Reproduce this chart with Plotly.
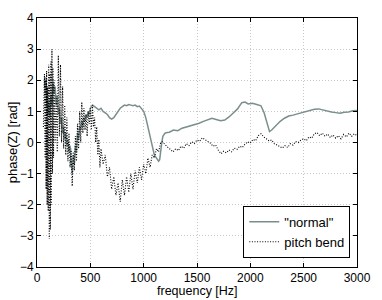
import plotly.graph_objects as go

# "normal" playing: frequency [Hz] and phase [rad]
normal_freq = [70, 75, 80, 85, 90, 95, 100, 110, 120, 130, 140, 150, 160, 170, 180, 190, 200, 210, 220, 230,
               240, 250, 260, 270, 280, 290, 300, 310, 320, 330, 340, 350, 360, 370, 380, 390, 400, 410, 420, 430,
               440, 450, 460, 470, 480, 490, 500, 520, 540, 560, 580, 600, 620, 640, 660, 680, 700, 720, 740, 760,
               780, 800, 820, 840, 860, 880, 900, 920, 940, 960, 980, 1000, 1020, 1040, 1060, 1080, 1100, 1120,
               1140, 1150, 1160, 1170, 1180, 1200, 1220,
               1240, 1280, 1320, 1360, 1400, 1440, 1480, 1520, 1560, 1600, 1640, 1680, 1720, 1760, 1800, 1840,
               1880, 1920, 1950, 1980, 2020, 2060, 2100, 2130, 2160, 2180, 2200, 2240, 2280, 2320, 2360, 2400,
               2440, 2480, 2520, 2560, 2600, 2640, 2680, 2720, 2760, 2800, 2840, 2880, 2920, 2960, 3000]
normal_phase = [1.8, 2.1, 1.6, 2.0, 1.2, 1.7, 0.9, 1.3, 0.8, 1.5, 1.2, 1.9, 1.6, 1.8, 1.2, 1.5, 0.9, 1.1, 0.6, 0.8,
                0.3, 0.5, 0.1, 0.3, -0.1, 0.1, -0.3, -0.1, -0.6, -1.0, -0.4, -0.7, -0.1, -0.3, 0.3, 0.1, 0.5, 0.4, 0.7, 0.5,
                0.8, 0.7, 0.9, 0.8, 1.0, 0.9, 1.1, 1.2, 1.15, 1.1, 1.05, 1.1, 1.0, 0.95, 0.9, 0.8, 0.75, 0.8, 0.9, 1.0,
                1.1, 1.15, 1.2, 1.18, 1.22, 1.2, 1.18, 1.2, 1.15, 1.17, 1.1, 1.0, 0.8, 0.5, 0.1, -0.2, -0.4, -0.5,
                -0.6, -0.55, -0.2, 0.0, 0.2, 0.3, 0.32,
                0.33, 0.40, 0.38, 0.46, 0.50, 0.53, 0.58, 0.62, 0.68, 0.74, 0.78, 0.74, 0.70, 0.72, 0.82, 0.95,
                1.08, 1.28, 1.30, 1.24, 1.26, 1.22, 1.18, 0.95, 0.55, 0.35, 0.40, 0.55, 0.68, 0.78, 0.85, 0.88,
                0.92, 0.96, 1.00, 1.04, 1.07, 1.08, 1.04, 1.00, 0.98, 0.96, 0.94, 0.97, 0.98, 1.02, 1.03]

# pitch bend: frequency [Hz] and phase [rad]
bend_freq = [60, 70, 75, 80, 85, 90, 95, 100, 105, 110, 115, 120, 125, 130, 135, 140, 145, 150, 155, 160,
             170, 180, 190, 200, 210, 220, 230, 240, 250, 260, 270, 280, 290, 300, 310, 320, 330, 340, 350, 360,
             370, 380, 390, 400, 410, 420, 430, 440, 450, 460, 470, 480, 490, 500, 510, 520, 530, 540, 550, 560,
             570, 580, 590, 600, 620, 640, 660, 680, 700, 720, 740, 760, 780, 800, 820, 840, 860, 880, 900, 920,
             940, 960, 980, 1000, 1020, 1040, 1060, 1080, 1100, 1120, 1140, 1160,
             1175, 1200, 1225, 1250, 1275, 1300, 1325, 1350, 1375, 1400, 1425, 1450, 1475, 1500, 1525, 1550,
             1575, 1600, 1625, 1650, 1675, 1700, 1725, 1750, 1775, 1800, 1825, 1850, 1875, 1900, 1925, 1950,
             1975, 2000, 2025, 2050, 2075, 2100, 2125, 2150, 2175, 2200, 2225, 2250, 2275, 2300, 2325, 2350,
             2375, 2400, 2425, 2450, 2475, 2500, 2525, 2550, 2575, 2600, 2625, 2650, 2675, 2700, 2725, 2750,
             2775, 2800, 2825, 2850, 2875, 2900, 2925, 2950, 2975, 3000]
bend_phase = [0.5, 2.2, -0.5, 2.0, -1.5, 2.3, -2.0, 1.8, -2.2, 2.5, -3.1, 2.2, -2.8, 2.6, -2.0, 3.0, -1.0, 2.4, -0.5, 2.0,
              0.0, 1.5, -0.3, 2.8, 0.2, 2.5, 0.0, 1.8, -0.2, 1.2, -0.4, 0.8, -0.6, 0.3, -0.8, -0.2, -1.4, -0.3, -0.9, 0.2,
              -0.6, 0.6, -0.2, 1.0, 0.0, 1.3, 0.3, 1.1, 0.4, 0.9, 0.2, 1.0, 0.6, 1.1, 0.4, 1.2, 0.5, 0.8, 0.0, 0.5,
              -0.4, 0.1, -0.8, -0.2, -0.7, -0.4, -1.1, -0.8, -1.5, -1.1, -1.7, -1.3, -1.9, -1.2, -1.7, -1.1, -1.6, -1.0, -1.5, -0.9,
              -1.3, -0.8, -1.2, -0.7, -1.0, -0.5, -0.8, -0.4, -0.5, -0.2, -0.3, 0.0,
              0.02, -0.08, -0.15, -0.22, -0.30, -0.20, -0.26, -0.12, -0.18, -0.04, -0.10, 0.02, -0.03, 0.08, 0.04, 0.15,
              0.10, 0.05, -0.02, -0.12, -0.08, -0.25, -0.36, -0.28, -0.33, -0.24, -0.30, -0.18, -0.22, -0.12, -0.16, -0.05,
              0.02, -0.02, 0.10, 0.06, 0.22, 0.28, 0.18, 0.12, 0.05, 0.08, -0.04, -0.08, -0.12, -0.18, -0.10, -0.16,
              -0.04, -0.08, 0.03, 0.0, 0.08, 0.12, 0.06, 0.18, 0.14, 0.28, 0.32, 0.22, 0.30, 0.20, 0.27, 0.16,
              0.24, 0.14, 0.22, 0.12, 0.26, 0.18, 0.30, 0.20, 0.28, 0.22]

x_ticks = [0, 500, 1000, 1500, 2000, 2500, 3000]
y_ticks = [-4, -3, -2, -1, 0, 1, 2, 3, 4]

FONT = "Liberation Sans, Arial, sans-serif"

fig = go.Figure()
fig.add_trace(go.Scatter(x=normal_freq, y=normal_phase, mode="lines", name='"normal"',
                         line=dict(color="rgb(122,142,142)", width=1.5)))
fig.add_trace(go.Scatter(x=bend_freq, y=bend_phase, mode="lines", name="pitch bend",
                         line=dict(color="black", width=1.1, dash="1px,1.6px")))

axis_common = dict(showline=True, linecolor="black", linewidth=1, mirror="ticks",
                   ticks="inside", ticklen=4, tickcolor="black",
                   showgrid=True, gridcolor="rgb(200,200,200)", gridwidth=1, griddash="1px,2px",
                   zeroline=False, tickfont=dict(family=FONT, size=12, color="black"))

fig.update_xaxes(range=[0, 3000], tickvals=x_ticks, **axis_common)
fig.update_yaxes(range=[-4, 4], tickvals=y_ticks, **axis_common)

fig.add_annotation(text="frequency [Hz]", xref="paper", yref="paper", x=0.5, y=-0.097,
                   xanchor="center", yanchor="middle", showarrow=False,
                   font=dict(family=FONT, size=12.5, color="black"))
fig.add_annotation(text="phase(Z) [rad]", xref="paper", yref="paper", x=-0.076, y=0.5,
                   xanchor="center", yanchor="middle", showarrow=False, textangle=-90,
                   font=dict(family=FONT, size=13, color="black"))

fig.update_layout(
    width=382, height=300,
    margin=dict(l=37, r=18, t=11, b=33),
    plot_bgcolor="white", paper_bgcolor="white",
    font=dict(family=FONT, size=12, color="black"),
    legend=dict(x=0.979, y=0.2455, xanchor="right", yanchor="top",
                bordercolor="black", borderwidth=1, bgcolor="white",
                font=dict(family=FONT, size=13, color="black"),
                tracegroupgap=0),
    showlegend=True,
)

# remove the browser's default 8px page margin so the figure fills the window
fig.write_html("out.html", config={"displayModeBar": False},
               post_script="document.body.style.margin='0px';")
